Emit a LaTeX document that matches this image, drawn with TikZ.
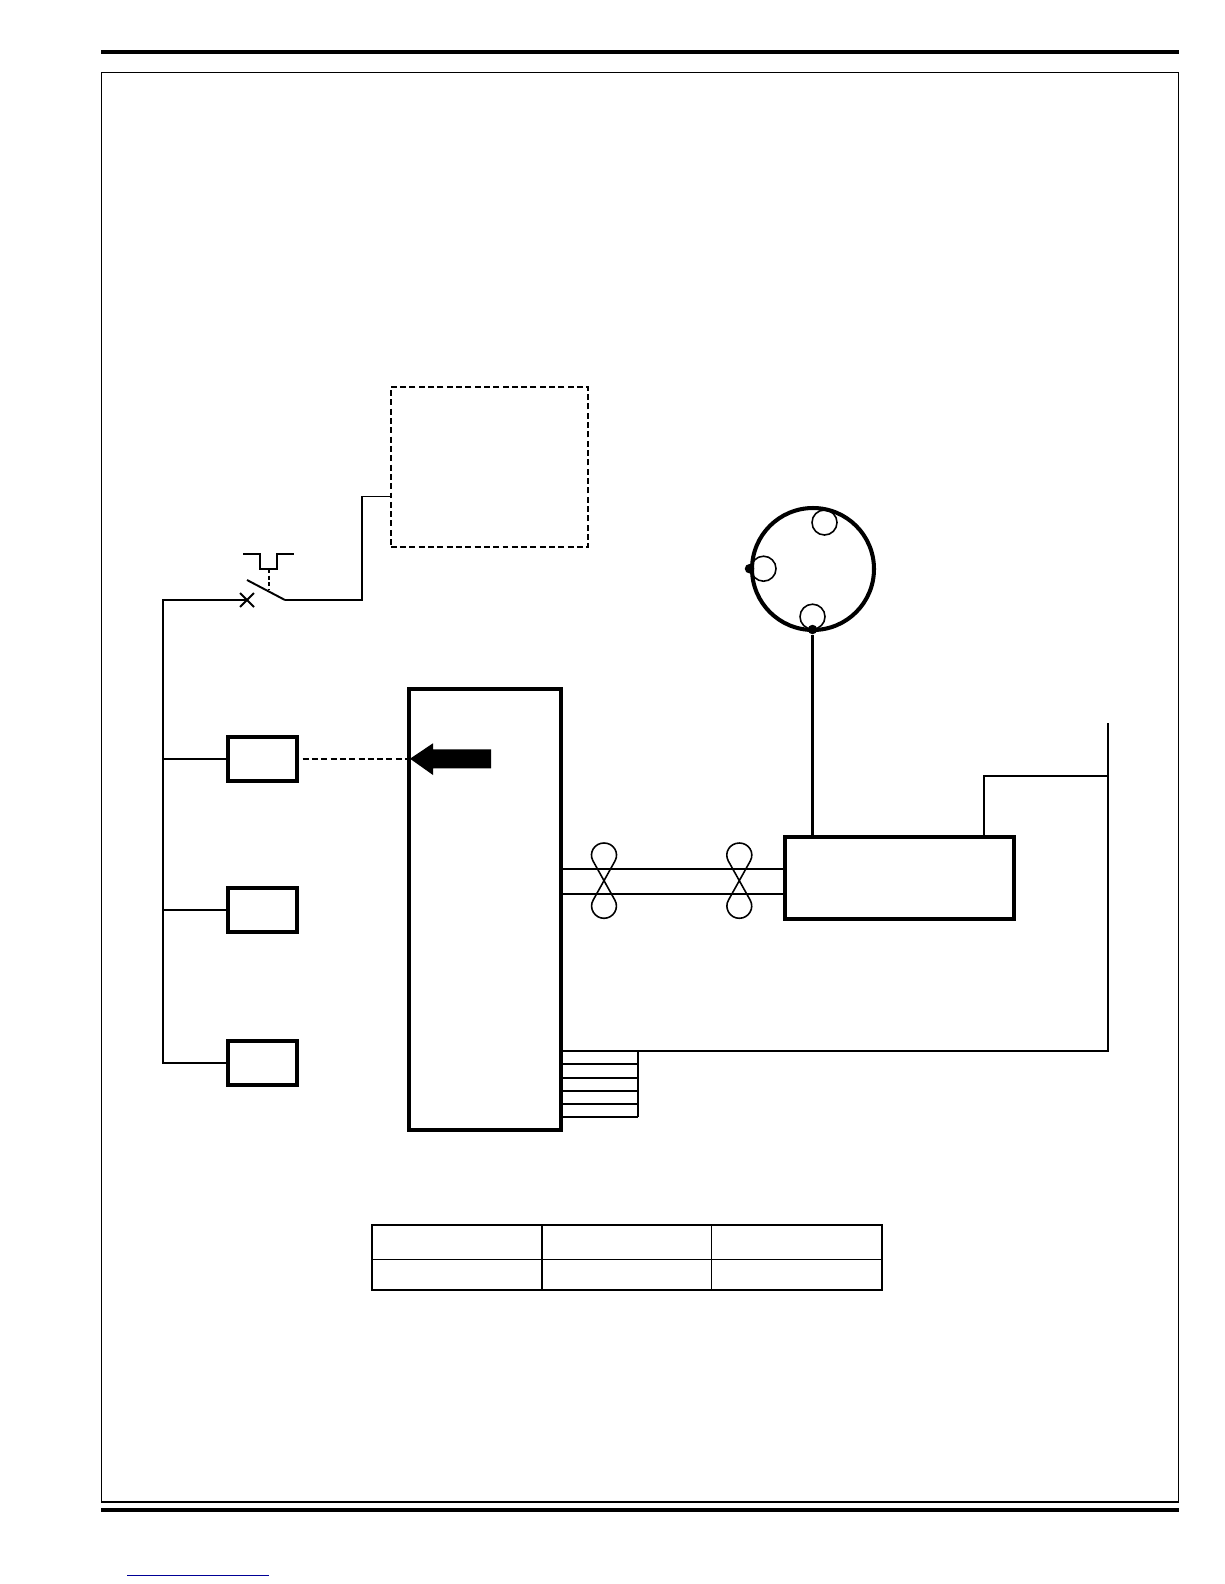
\documentclass[tikz,border=0pt]{standalone}
\usepackage{tikz}
\usetikzlibrary{shapes.geometric, shapes.misc}

\begin{document}
\begin{tikzpicture}[
  x=0.02cm, y=-0.02cm,
  wire/.style={draw=black, line width=1.1pt},
  heavybox/.style={rectangle, draw=black, line width=2.3pt, inner sep=0pt, outer sep=0pt},
  smallbox/.style={heavybox, minimum width=13.96mm, minimum height=8.8mm},
  dashwire/.style={wire, dash pattern=on 3.4pt off 1.9pt},
  thinloop/.style={draw=black, line width=0.9pt}
]
\useasboundingbox (0,0) rectangle (1224,1584);

% Page rules and frame
\coordinate (ruleTL) at (101,52);
\coordinate (ruleTR) at (1179,52);
\coordinate (ruleBL) at (101,1510);
\coordinate (ruleBR) at (1179,1510);
\coordinate (linkL) at (127,1575.3);
\coordinate (linkR) at (269,1575.3);
\node[rectangle, draw=black, line width=0.8pt, inner sep=0pt, outer sep=0pt,
      minimum width=215.4mm, minimum height=285.9mm] (frame) at (639.8,787.2) {};
\draw[line width=2.4pt] (ruleTL) -- (ruleTR);
\draw[line width=2.4pt] (ruleBL) -- (ruleBR);
\draw[draw={rgb,255:red,0;green,0;blue,150}, line width=0.6pt] (linkL) -- (linkR);

% Nodes
\node[rectangle, draw=black, dashwire, inner sep=0pt, outer sep=0pt,
      minimum width=39.5mm, minimum height=32.1mm] (dashbox) at (489.5,467) {};
\node[smallbox] (sensorA) at (262.5,758.7) {};
\node[smallbox] (sensorB) at (262.5,909.6) {};
\node[smallbox] (sensorC) at (262.5,1063) {};
\node[heavybox, minimum width=30.4mm, minimum height=88.14mm] (mainbox) at (485,909.65) {};
\node[heavybox, minimum width=45.72mm, minimum height=16.46mm] (ctrlbox) at (899.6,877.85) {};
\node[circle, draw=black, line width=2.3pt, inner sep=0pt, outer sep=0pt, minimum size=24.4mm] (ring) at (813,569) {};
\node[circle, thinloop, inner sep=0pt, minimum size=5mm] (portA) at (824.5,522.5) {};
\node[circle, thinloop, inner sep=0pt, minimum size=5mm] (portB) at (763.5,568.7) {};
\node[circle, thinloop, inner sep=0pt, minimum size=5mm] (portC) at (812.5,616.7) {};
\node[circle, fill=black, inner sep=0pt, minimum size=1.9mm] (dotB) at (749.5,568.7) {};
\node[circle, fill=black, inner sep=0pt, minimum size=1.9mm] (dotC) at (812.5,629.5) {};
\node[cross out, draw=black, line width=1.1pt, inner sep=0pt, outer sep=0pt, minimum size=2.8mm] (swcross) at (247,600) {};
\node[rectangle, draw=black, line width=1.5pt, inner sep=0pt, outer sep=0pt,
      minimum width=101.96mm, minimum height=13mm] (tblbox) at (627,1257.5) {};

% Junctions
\coordinate (busTop) at (163,600);
\coordinate (bladeA) at (247,580);
\coordinate (bladeB) at (285,600);
\coordinate (rise) at (362,600);
\coordinate (dashIn) at (390.7,496.5);
\coordinate (rightTop) at (1107.7,723.3);
\coordinate (rightBot) at (1107.7,1051);
\coordinate (ctrlUp) at (984,776);
\coordinate (ctrlIn) at (984,836.7);
\coordinate (ctrlA) at (785.7,869);
\coordinate (ctrlB) at (785.7,894);
\coordinate (legTop) at (637.7,1051);
\coordinate (legBot) at (637.7,1116.7);
\coordinate (tblmid) at (372,1259.5);
\coordinate (pulseA) at (243,553.7);
\coordinate (pulseB) at (260,553.7);
\coordinate (pulseC) at (260,569);
\coordinate (pulseD) at (277,569);
\coordinate (pulseE) at (277,553.7);
\coordinate (pulseF) at (294,553.7);
\coordinate (pulseG) at (269,569);
\coordinate (pulseH) at (269,590);

% Switch
\draw[wire] (bladeA) -- (bladeB);
\draw[wire] (pulseA) -- (pulseB) -- (pulseC) -- (pulseD) -- (pulseE) -- (pulseF);
\draw[wire, dash pattern=on 2.2pt off 1.6pt] (pulseG) -- (pulseH);
\draw[wire] (sensorC.west) -| (busTop) -- (swcross.center);
\draw[wire] (bladeB) -- (rise) |- (dashIn);

% Sensors
\draw[wire] (busTop |- sensorA.west) -- (sensorA.west);
\draw[wire] (busTop |- sensorB.west) -- (sensorB.west);
\draw[dashwire, shorten <=3pt] (sensorA.east) -- (mainbox.west |- sensorA.east);
\fill[black] (410,758.7) -- (433,743.3) -- (433,749.3) -- (491,749.3)
  -- (491,768.3) -- (433,768.3) -- (433,775) -- cycle;

% Ring
\draw[wire, line width=1.2pt] (dotC) -- (dotC |- ctrlbox.north);

% Right side
\draw[wire] (ctrlIn) -- (ctrlUp) -- (rightTop |- ctrlUp);
\draw[wire] (rightTop) -- (rightBot) -- (mainbox.east |- rightBot);
\draw[wire] (legTop) -- (legBot);
\foreach \ty in {1064,1077.7,1091,1104,1116.7} {
  \coordinate (legTap) at (637.7,\ty);
  \draw[wire] (mainbox.east |- legTap) -- (legTap);
}

% Twisted pair
\draw[wire] (mainbox.east |- ctrlA) -- (ctrlA);
\draw[wire] (mainbox.east |- ctrlB) -- (ctrlB);
\foreach \tx in {604,739.3} {
  \draw[thinloop] (\tx+11.05,860.85)
    .. controls (\tx+15.46,852.5) and (\tx+9.43,843) .. (\tx,843)
    .. controls (\tx-9.43,843) and (\tx-15.46,852.5) .. (\tx-11.05,860.85)
    -- (\tx+10.8,900)
    .. controls (\tx+15.5,908.1) and (\tx+9.43,918.3) .. (\tx,918.3)
    .. controls (\tx-9.43,918.3) and (\tx-15.5,908.1) .. (\tx-10.8,900)
    -- cycle;
}

% Table
\draw[thinloop] (tblbox.west |- tblmid) -- (tblbox.east |- tblmid);
\foreach \cx in {541.7,711.3} {
  \coordinate (tblcol) at (\cx,1259);
  \draw[thinloop] (tblcol |- tblbox.north) -- (tblcol |- tblbox.south);
}

\end{tikzpicture}
\end{document}
